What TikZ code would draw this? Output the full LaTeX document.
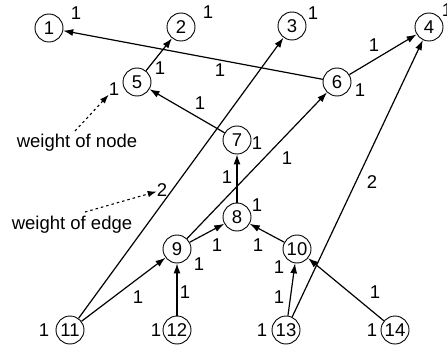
\documentclass[tikz,border=0pt]{standalone}
\usepackage{fontspec}
\setmainfont{Liberation Sans}
\usetikzlibrary{arrows.meta}
\begin{document}
\begin{tikzpicture}[x=1pt,y=-1pt,
  vnode/.style={draw,circle,line width=0.9pt,minimum size=28pt,inner sep=0pt,font=\fontsize{18.5}{20}\selectfont},
  lbl/.style={inner sep=0pt,font=\fontsize{18.5}{20}\selectfont},
  edge/.style={line width=1.2pt,-{Latex[length=10pt,width=7pt]}},
  note/.style={line width=1.1pt,dash pattern=on 2.5pt off 3pt,-{Latex[length=9pt,width=6.5pt]}}]
\useasboundingbox (0,0) rectangle (447,350);
% nodes
\node[vnode] (n1) at (49,28) {1};
\node[vnode] (n2) at (181,27) {2};
\node[vnode] (n3) at (292,26) {3};
\node[vnode] (n4) at (429,27) {4};
\node[vnode] (n5) at (137,82) {5};
\node[vnode] (n6) at (337,82) {6};
\node[vnode] (n7) at (237,140) {7};
\node[vnode] (n8) at (237,217) {8};
\node[vnode] (n9) at (177,249) {9};
\node[vnode] (n10) at (297,249) {10};
\node[vnode] (n11) at (70,330) {11};
\node[vnode] (n12) at (177,330) {12};
\node[vnode] (n13) at (286,330) {13};
\node[vnode] (n14) at (395,330) {14};
% node weights
\node[lbl] (w1) at (76,13) {1};
\node[lbl] (w2) at (208,12) {1};
\node[lbl] (w3) at (313,13) {1};
\node[lbl] (w4) at (447,10) {1};
\node[lbl] (w5) at (114,89) {1};
\node[lbl] (w6) at (360,90) {1};
\node[lbl] (w7) at (257,143) {1};
\node[lbl] (w8) at (257,205) {1};
\node[lbl] (w9) at (199,264) {1};
\node[lbl] (w10) at (279,267) {1};
\node[lbl] (w11) at (44,330) {1};
\node[lbl] (w12) at (156,330) {1};
\node[lbl] (w13) at (262,330) {1};
\node[lbl] (w14) at (372,330) {1};
% edges
\draw[edge] (n6) -- (n1);
\draw[edge] (n5) -- (n2);
\draw[edge] (n6) -- (n4);
\draw[edge] (n7) -- (n5);
\draw[edge] (n8) -- (n7);
\draw[edge] (n9) -- (n8);
\draw[edge] (n9) -- (n6);
\draw[edge] (n10) -- (n8);
\draw[edge] (n11) -- (n9);
\draw[edge] (n11) -- (n3);
\draw[edge] (n12) -- (n9);
\draw[edge] (n13) -- (n10);
\draw[edge] (n13) -- (n4);
\draw[edge] (n14) -- (n10);
% edge weights
\node[lbl] (e61) at (220,70) {1};
\node[lbl] (e52) at (160,68) {1};
\node[lbl] (e64) at (374,45) {1};
\node[lbl] (e75) at (200,103) {1};
\node[lbl] (e87) at (227,177) {1};
\node[lbl] (e96) at (287,158) {1};
\node[lbl] (e98) at (217,245) {1};
\node[lbl] (e108) at (258,245) {1};
\node[lbl] (e119) at (138,297) {1};
\node[lbl] (e113) at (162,190) {2};
\node[lbl] (e129) at (185,292) {1};
\node[lbl] (e1310) at (279,297) {1};
\node[lbl] (e134) at (372,182) {2};
\node[lbl] (e1410) at (375,292) {1};
% annotations
\node[lbl] (tn) at (77,143) {weight of node};
\node[lbl] (te) at (72,225) {weight of edge};
\coordinate (an) at (75,131);
\coordinate (ae) at (85,212);
\draw[note] (an) -- (w5);
\draw[note] (ae) -- (e113);
\end{tikzpicture}
\end{document}
